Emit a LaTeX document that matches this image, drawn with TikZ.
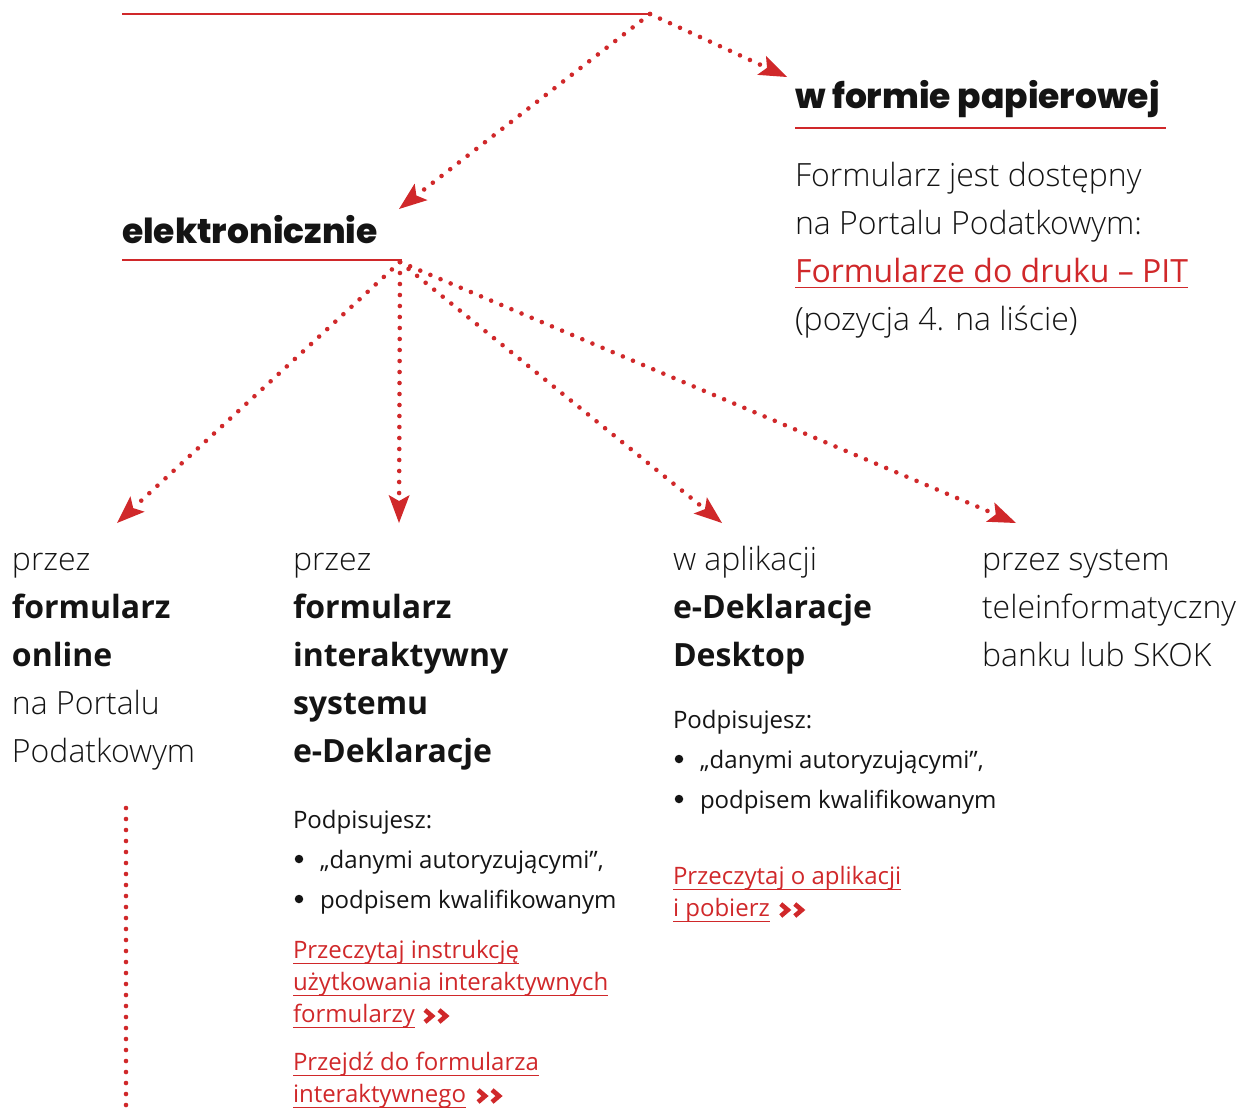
\documentclass[tikz,border=0pt]{standalone}
\usepackage{fontspec}
\setmainfont{Open Sans}
\newfontfamily\lightfont{Open Sans Light}
\newfontfamily\headfont{Poppins}[UprightFont=* ExtraBold]
\usetikzlibrary{arrows.meta}
\definecolor{myred}{RGB}{208,40,42}
\definecolor{ink}{RGB}{20,20,20}
\newcommand{\ulk}[1]{\setbox0\hbox{#1}\rlap{\rule[-6pt]{\wd0}{1.4pt}}\box0}
\tikzset{
  every node/.style={inner sep=0pt, outer sep=0pt, anchor=base west, text=ink},
  head/.style={font=\headfont\fontsize{34.5}{40}\selectfont},
  lt/.style={font=\lightfont\fontsize{32}{38}\selectfont},
  bd/.style={font=\bfseries\fontsize{32}{38}\selectfont},
  sm/.style={font=\fontsize{24}{28}\selectfont},
  lk/.style={font=\fontsize{24}{28}\selectfont, text=myred},
  lkbig/.style={font=\fontsize{32}{38}\selectfont, text=myred},
  bul/.style={circle, fill=ink, minimum size=8.5pt, anchor=center},
  solidred/.style={draw=myred, line width=2.6pt},
  dotline/.style={draw=myred, line width=4.6pt, line cap=round, dash pattern=on 0pt off 11pt},
  dotarrow/.style={dotline, -{Stealth[length=28pt,width=21pt,inset=6pt,line width=0pt,round=false]}},
  chev/.pic={
    \draw[myred, line width=4.6pt, line join=miter] (0,-12) -- (7,-6) -- (0,0);
    \draw[myred, line width=4.6pt, line join=miter] (14,-12) -- (21,-6) -- (14,0);
  }
}
\begin{document}
\begin{tikzpicture}[x=1pt,y=-1pt]
\useasboundingbox (0,0) rectangle (1239,1108);

% junctions and arrow targets
\coordinate (lineL) at (122,14);
\coordinate (top) at (650,14);
\coordinate (tipPap) at (787,77);
\coordinate (tipEle) at (399,209);
\coordinate (hub) at (400,262);
\coordinate (tip1) at (117,523);
\coordinate (tip2) at (399,523);
\coordinate (tip3) at (722,523);
\coordinate (tip4) at (1016,523);
\coordinate (vtop) at (126,808);
\coordinate (vbot) at (126,1112);

% headings
\node[head] (pap) at (795,108) {w formie papierowej};
\node[head] (ele) at (122,243) {elektronicznie};
\coordinate (papUL) at (795,128);
\coordinate (papUR) at (1166,128);
\coordinate (eleUL) at (122,260);
\coordinate (eleUR) at (402,260);

\path[solidred] (lineL) -- (top);
\path[solidred] (papUL) -- (papUR);
\path[solidred] (eleUL) -- (eleUR);

\path[dotarrow] (top) -- (tipPap);
\path[dotarrow] (top) -- (tipEle);
\path[dotarrow] (hub) -- (tip1);
\path[dotarrow] (hub) -- (tip2);
\path[dotarrow] (hub) -- (tip3);
\path[dotarrow] (hub) -- (tip4);
\path[dotline] (vtop) -- (vbot);

% paper column
\node[lt] (p1) at (795,186) {Formularz jest dostępny};
\node[lt] (p2) at (795,234) {na Portalu Podatkowym:};
\node[lkbig] (p3) at (795,282) {\ulk{Formularze do druku – PIT}};
\node[lt] (p4) at (795,330) {(pozycja 4. na liście)};

% column 1
\node[lt] (a1) at (12,570) {przez};
\node[bd] (a2) at (12,618) {formularz};
\node[bd] (a3) at (12,666) {online};
\node[lt] (a4) at (12,714) {na Portalu};
\node[lt] (a5) at (12,762) {Podatkowym};

% column 2
\node[lt] (b1) at (293,570) {przez};
\node[bd] (b2) at (293,618) {formularz};
\node[bd] (b3) at (293,666) {interaktywny};
\node[bd] (b4) at (293,714) {systemu};
\node[bd] (b5) at (293,762) {e-Deklaracje};
\node[sm] (b6) at (293,828) {Podpisujesz:};
\node[bul] (b7d) at (299,859) {};
\node[sm] (b7) at (320,868) {„danymi autoryzującymi”,};
\node[bul] (b8d) at (299,899) {};
\node[sm] (b8) at (320,908) {podpisem kwalifikowanym};
\node[lk] (b9) at (293,958) {\ulk{Przeczytaj instrukcję}};
\node[lk] (b10) at (293,990) {\ulk{użytkowania interaktywnych}};
\node[lk] (b11) at (293,1022) {\ulk{formularzy}};
\pic at ([xshift=10pt]b11.base east) {chev};
\node[lk] (b12) at (293,1070) {\ulk{Przejdź do formularza}};
\node[lk] (b13) at (293,1102) {\ulk{interaktywnego}};
\pic at ([xshift=12pt]b13.base east) {chev};

% column 3
\node[lt] (c1) at (673,570) {w aplikacji};
\node[bd] (c2) at (673,618) {e-Deklaracje};
\node[bd] (c3) at (673,666) {Desktop};
\node[sm] (c4) at (673,728) {Podpisujesz:};
\node[bul] (c5d) at (679,759) {};
\node[sm] (c5) at (700,768) {„danymi autoryzującymi”,};
\node[bul] (c6d) at (679,799) {};
\node[sm] (c6) at (700,808) {podpisem kwalifikowanym};
\node[lk] (c7) at (673,884) {\ulk{Przeczytaj o aplikacji}};
\node[lk] (c8) at (673,916) {\ulk{i pobierz}};
\pic at ([xshift=11pt]c8.base east) {chev};

% column 4
\node[lt] (d1) at (982,570) {przez system};
\node[lt] (d2) at (982,618) {teleinformatyczny};
\node[lt] (d3) at (982,666) {banku lub SKOK};
\end{tikzpicture}
\end{document}
